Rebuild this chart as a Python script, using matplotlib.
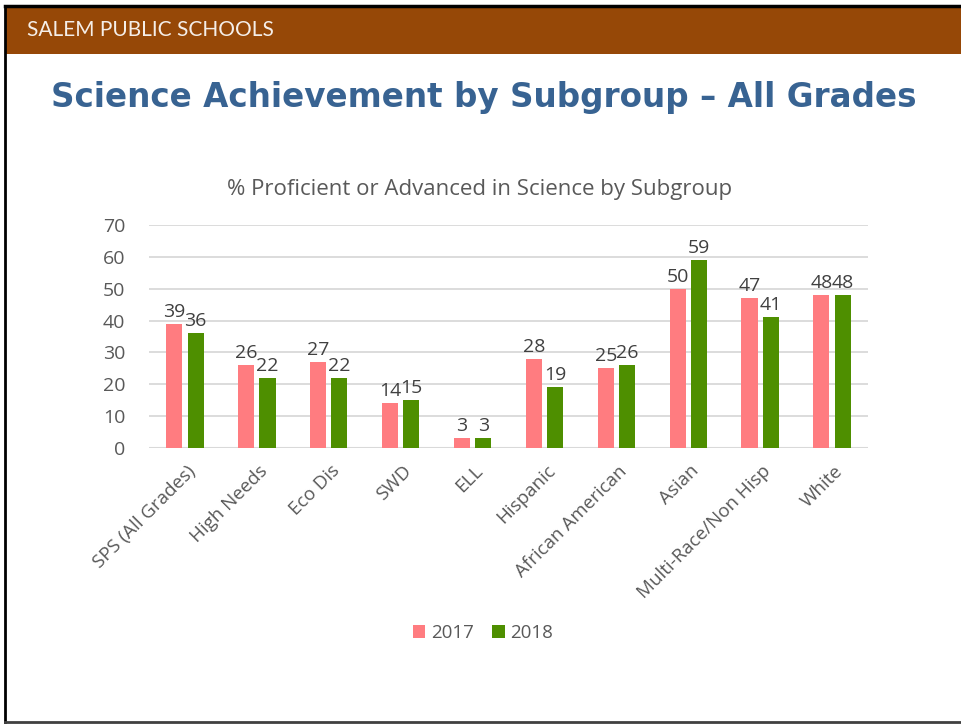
import matplotlib.pyplot as plt
import matplotlib.patches as patches
import numpy as np

# data
categories = ['SPS (All Grades)', 'High Needs', 'Eco Dis', 'SWD', 'ELL', 'Hispanic',
              'African American', 'Asian', 'Multi-Race/Non Hisp', 'White']
years = ['2017', '2018']
vals_2017 = [39, 26, 27, 14, 3, 28, 25, 50, 47, 48]
vals_2018 = [36, 22, 22, 15, 3, 19, 26, 59, 41, 48]
yticks = [0, 10, 20, 30, 40, 50, 60, 70]

W, H = 961, 724
fig = plt.figure(figsize=(W / 100, H / 100), dpi=100)
fig.patch.set_facecolor('white')

# slide frame and header bar
fig.add_artist(patches.Rectangle((5 / W, 1 - 54 / H), 1 - 5 / W, 47 / H,
                                 transform=fig.transFigure, facecolor='#964807',
                                 edgecolor='none'))
fig.add_artist(plt.Line2D([5 / W, 1], [1 - 6 / H, 1 - 6 / H], color='black', lw=2.5,
                          transform=fig.transFigure))
fig.add_artist(plt.Line2D([5 / W, 5 / W], [1 - 6 / H, 1 - 722 / H], color='black', lw=2,
                          transform=fig.transFigure))
fig.add_artist(plt.Line2D([5 / W, 1], [1 - 722 / H, 1 - 722 / H], color='#404040', lw=2,
                          transform=fig.transFigure))

fig.text(27 / W, 1 - 30 / H, 'SALEM PUBLIC SCHOOLS', color='#F5EEE8', fontsize=15,
         family='Lato', va='center', ha='left')
fig.text(484 / W, 1 - 97 / H, 'Science Achievement by Subgroup \u2013 All Grades',
         color='#386392', fontsize=23.5, fontweight='bold', family='DejaVu Sans',
         va='center', ha='center')
fig.text(480 / W, 1 - 189 / H, '% Proficient or Advanced in Science by Subgroup',
         color='#595959', fontsize=16, family='Open Sans', va='center', ha='center')

# plot area: x 149..868, y 225 (70) .. 448 (0)
ax = fig.add_axes([149 / W, 1 - 448 / H, (868 - 149) / W, (448 - 225) / H])
x = np.arange(len(categories))
bw = 0.225
off = 0.148
b1 = ax.bar(x - off, vals_2017, bw, color='#FF7C80', label=years[0])
b2 = ax.bar(x + off, vals_2018, bw, color='#4E8F00', label=years[1])

for bars in (b1, b2):
    for r in bars:
        ax.text(r.get_x() + r.get_width() / 2, r.get_height() + 1.0, f'{r.get_height():.0f}',
                ha='center', va='bottom', fontsize=14, color='#404040', family='Open Sans')

ax.set_xlim(-0.5, len(categories) - 0.5)
ax.set_ylim(0, 70)
ax.set_yticks(yticks)
ax.yaxis.grid(True, color='#D9D9D9', lw=1.3)
ax.set_axisbelow(True)
for s in ax.spines.values():
    s.set_visible(False)
ax.axhline(0, color='#D9D9D9', lw=1.5, zorder=0.5)
ax.tick_params(axis='both', length=0, labelsize=14, colors='#595959')
ax.tick_params(axis='y', pad=17)
ax.set_xticks(x + 0.02)
ax.set_xticklabels(categories, rotation=45, ha='right', rotation_mode='anchor',
                   family='Open Sans', fontsize=13.5)
ax.tick_params(axis='x', pad=10)
for lbl in ax.get_yticklabels():
    lbl.set_family('Open Sans')

fig.legend(handles=[b1, b2], labels=years, loc='center', bbox_to_anchor=(483 / W, 1 - 633 / H),
           ncol=2, frameon=False, handlelength=0.65, handleheight=0.65,
           handletextpad=0.3, columnspacing=1.0, labelcolor='#595959',
           prop={'family': 'Open Sans', 'size': 13.5})

fig.savefig('out.png', dpi=100)
